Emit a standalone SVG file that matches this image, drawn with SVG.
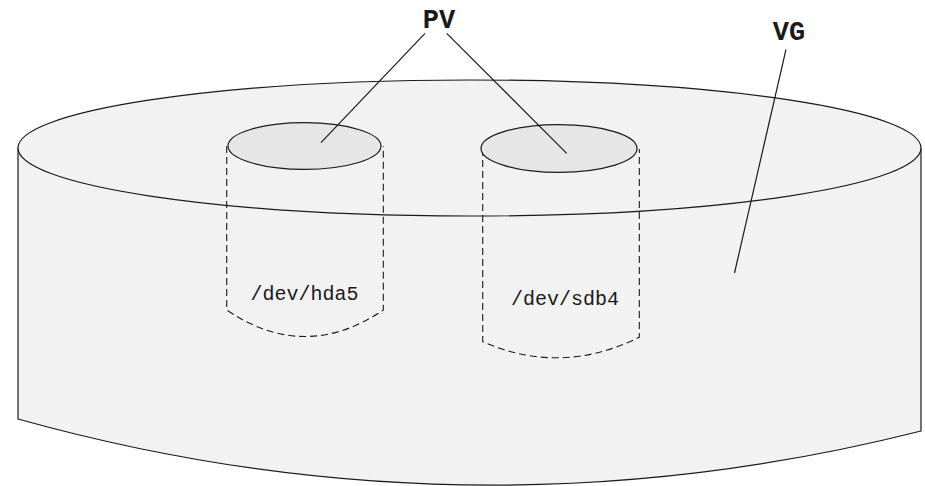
<svg xmlns="http://www.w3.org/2000/svg" width="925" height="486" viewBox="0 0 925 486">
<style>
.ln{stroke:#1a1a1a;stroke-width:1.2;fill:none}
.body{fill:#f2f2f2;stroke:#1a1a1a;stroke-width:1.2}
.pvtop{fill:#e6e6e6;stroke:#1a1a1a;stroke-width:1.2}
.dash{stroke:#1a1a1a;stroke-width:1.1;fill:none;stroke-dasharray:7,4}
.dev{font-family:"Liberation Mono","DejaVu Sans Mono",monospace;font-size:20px;fill:#1a1a1a;text-anchor:middle}
.lbl{font-family:"Liberation Mono","DejaVu Sans Mono",monospace;font-size:27px;font-weight:bold;fill:#1a1a1a;text-anchor:middle}
</style>
<rect width="925" height="486" fill="#ffffff"/>
<g id="vg">
<path d="M18,148 L18,419 Q470,545 921,431 L921,148 Z" fill="#f2f2f2" stroke="none"/>
<path class="ln" d="M18,148 L18,419 Q470,545 921,431 L921,148"/>
<ellipse class="body" cx="469.5" cy="148" rx="451.5" ry="68"/>
</g>
<g id="pv-hda5">
<path class="dash" d="M226.7,146 L226.7,310 Q305,363 383.3,310 L383.3,146"/>
<ellipse class="pvtop" cx="304.5" cy="146" rx="76.5" ry="23.3"/>
<text class="dev" x="304.5" y="300">/dev/hda5</text>
</g>
<g id="pv-sdb4">
<path class="dash" d="M482.7,149 L482.7,341.7 Q561,376 639.3,337.3 L639.3,149"/>
<ellipse class="pvtop" cx="559" cy="148.5" rx="78" ry="23.8"/>
<text class="dev" x="565" y="305">/dev/sdb4</text>
</g>
<g id="label-pv">
<text class="lbl" x="439" y="28">PV</text>
</g>
<g id="label-vg">
<text class="lbl" x="789" y="40">VG</text>
</g>
<g id="connectors">
<line class="ln" x1="425" y1="33.3" x2="321" y2="142.7"/>
<line class="ln" x1="446.7" y1="33.3" x2="566.7" y2="153.3"/>
<line class="ln" x1="786" y1="49.3" x2="734.5" y2="273"/>
</g>
</svg>
